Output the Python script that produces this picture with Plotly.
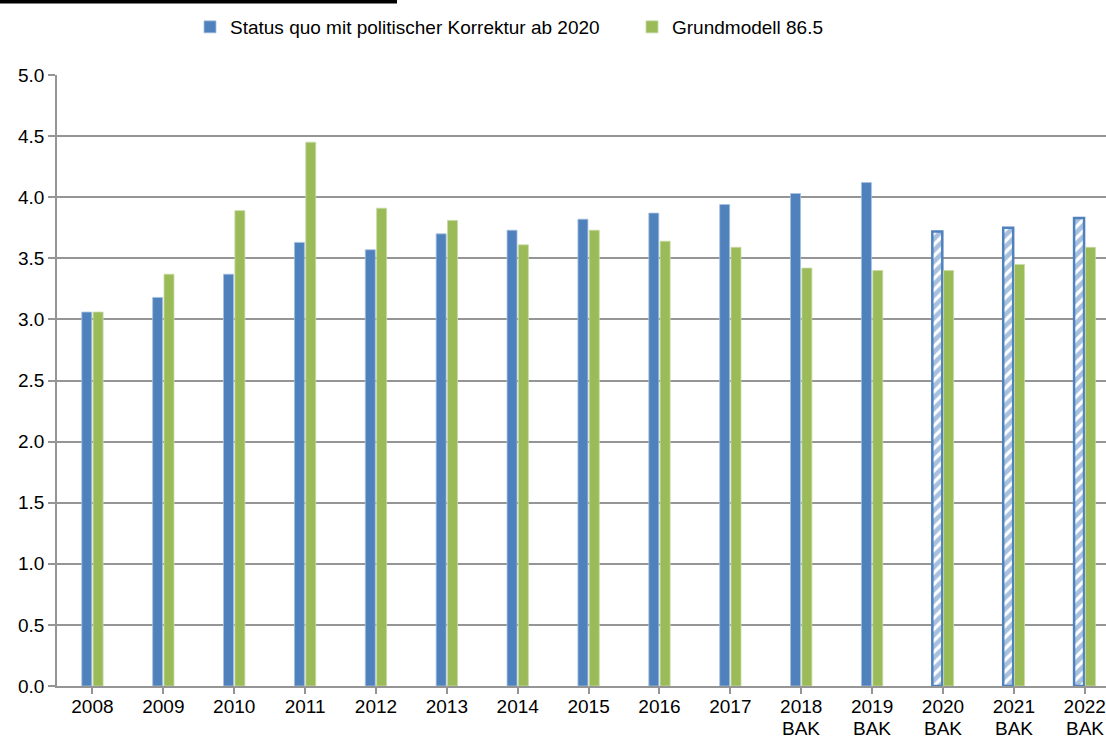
import plotly.graph_objects as go

categories = ["2008", "2009", "2010", "2011", "2012", "2013", "2014", "2015", "2016", "2017",
              "2018 BAK", "2019 BAK", "2020 BAK", "2021 BAK", "2022 BAK"]
status_quo = [3.06, 3.18, 3.37, 3.63, 3.57, 3.70, 3.73, 3.82, 3.87, 3.94, 4.03, 4.12, 3.72, 3.75, 3.83]
grundmodell = [3.06, 3.37, 3.89, 4.45, 3.91, 3.81, 3.61, 3.73, 3.64, 3.59, 3.42, 3.40, 3.40, 3.45, 3.59]
hatched = [False] * 12 + [True] * 3
y_ticks = [0, 0.5, 1.0, 1.5, 2.0, 2.5, 3.0, 3.5, 4.0, 4.5, 5.0]

BLUE = "#4F81BD"
GREEN = "#9BBB59"
GRID = "#959595"
FS = 19
W, H = 1106, 738
ML, MT, MB, MR = 57, 75, 52, 0
PW, PH = W - ML - MR, H - MT - MB

x = list(range(len(categories)))
years = [c.split(" ")[0] for c in categories]
suffixes = [c.split(" ")[1] if " " in c else "" for c in categories]

fig = go.Figure()
fig.add_trace(go.Bar(
    x=x, y=status_quo, name="Status quo mit politischer Korrektur ab 2020",
    marker=dict(
        color=BLUE,
        line=dict(color=[BLUE if h else "#A7C0DE" for h in hatched],
                  width=[2.5 if h else 0.8 for h in hatched]),
        pattern=dict(shape=["/" if h else "" for h in hatched],
                     fgcolor=BLUE, bgcolor="white", size=8, solidity=0.6,
                     fillmode="overlay"),
    ),
))
fig.add_trace(go.Bar(
    x=x, y=grundmodell, name="Grundmodell 86.5",
    marker=dict(color=GREEN, line=dict(color="#C6D9A4", width=0.8)),
))

annotations = []
for i, s in enumerate(suffixes):
    if s:
        annotations.append(dict(x=i, xref="x", y=(MT + PH - 728) / PH,
                                yref="paper", text=s, showarrow=False,
                                xanchor="center", yanchor="middle",
                                font=dict(size=FS, color="black")))

fig.update_layout(
    width=W, height=H,
    margin=dict(l=ML, r=MR, t=MT, b=MB, autoexpand=False),
    paper_bgcolor="white", plot_bgcolor="white",
    barmode="group", bargap=0.68, bargroupgap=0.12,
    font=dict(family="Liberation Sans, Arial, sans-serif", size=FS, color="black"),
    showlegend=True,
    legend=dict(orientation="h", x=(190 - ML) / PW, xanchor="left",
                y=1 + (MT - 27) / PH, yanchor="middle",
                font=dict(size=FS), entrywidth=397, entrywidthmode="pixels",
                traceorder="normal", bgcolor="rgba(0,0,0,0)"),
    xaxis=dict(
        tickmode="array", tickvals=x, ticktext=years,
        range=[-0.5, 14.3], tickson="boundaries", automargin=False,
        ticks="outside", ticklen=6, tickcolor=GRID, tickwidth=1.5,
        ticklabelstandoff=-4,
        showgrid=False, showline=True, linecolor=GRID, linewidth=1.5,
        tickfont=dict(size=FS), zeroline=False,
    ),
    yaxis=dict(
        range=[0, 5.0], tickvals=y_ticks, ticktext=[f"{v:.1f}" for v in y_ticks],
        automargin=False,
        ticks="outside", ticklen=7, tickcolor=GRID, tickwidth=1.5,
        showgrid=True, gridcolor=GRID, gridwidth=1.5,
        showline=True, linecolor=GRID, linewidth=1.5,
        zeroline=False, tickfont=dict(size=FS),
    ),
    annotations=annotations,
    shapes=[dict(type="line", xref="paper", yref="paper",
                 x0=-ML / PW, x1=(397 - ML) / PW,
                 y0=1 + (MT - 1.5) / PH, y1=1 + (MT - 1.5) / PH,
                 line=dict(color="black", width=4))],
)

fig.write_html("out.html",
               config={"displayModeBar": False},
               post_script="document.body.style.margin='0';document.body.style.overflow='hidden';")
